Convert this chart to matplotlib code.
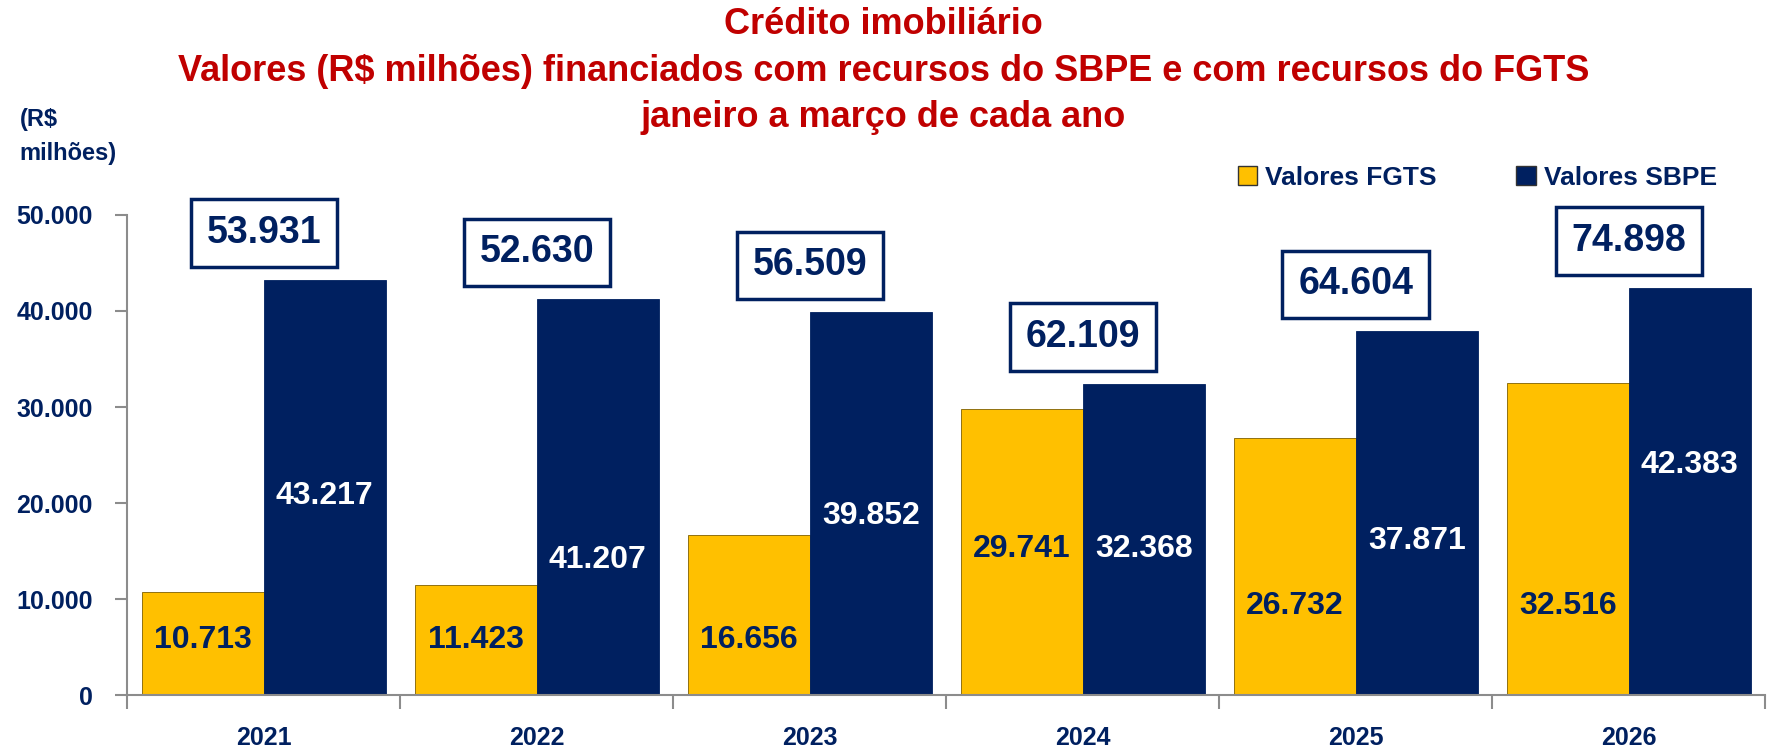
import numpy as np
import matplotlib.pyplot as plt
from matplotlib.patches import Patch

plt.rcParams["font.family"] = ["Liberation Sans", "DejaVu Sans"]
plt.rcParams["font.weight"] = "bold"

NAVY = "#002060"
GOLD = "#FFC000"
RED = "#C00000"

years = ["2021", "2022", "2023", "2024", "2025", "2026"]
fgts = [10713, 11423, 16656, 29741, 26732, 32516]
sbpe = [43217, 41207, 39852, 32368, 37871, 42383]
totals = [53931, 52630, 56509, 62109, 64604, 74898]

# where the value labels sit inside the bars (data units)
fgts_label_y = [5700, 5700, 5700, 15200, 9300, 9300]
sbpe_label_y = [20700, 14100, 18700, 15200, 16000, 24000]


def fmt(v):
    return "{:,}".format(v).replace(",", ".")


fig = plt.figure(figsize=(17.67, 7.49), dpi=100)
ax = fig.add_axes([0.072, 0.072, 0.927, 0.641])

x = np.arange(len(years))
w = 0.447
ax.bar(x - w / 2, fgts, w, color=GOLD, edgecolor="#7F6000", linewidth=0.6, label="Valores FGTS")
ax.bar(x + w / 2, sbpe, w, color=NAVY, edgecolor=NAVY, linewidth=0.6, label="Valores SBPE")

for i in range(len(years)):
    ax.text(x[i] - w / 2, fgts_label_y[i], fmt(fgts[i]), ha="center", va="center",
            fontsize=23, color=NAVY, fontweight="bold")
    ax.text(x[i] + w / 2, sbpe_label_y[i], fmt(sbpe[i]), ha="center", va="center",
            fontsize=23, color="white", fontweight="bold")
    ax.text(x[i], sbpe[i] + 4900, fmt(totals[i]), ha="center", va="center",
            fontsize=27, color=NAVY, fontweight="bold", clip_on=False,
            bbox=dict(boxstyle="square,pad=0.42", fc="white", ec=NAVY, lw=2.5))

ax.set_xlim(-0.5, len(years) - 0.5)
ax.set_ylim(0, 50000)
ax.set_yticks(np.arange(0, 50001, 10000))
ax.set_yticklabels([fmt(v) for v in range(0, 50001, 10000)])
ax.set_xticks(x)
ax.set_xticklabels(years)
ax.set_xticks(np.arange(-0.5, len(years)), minor=True)

for s in ["top", "right"]:
    ax.spines[s].set_visible(False)
for s in ["left", "bottom"]:
    ax.spines[s].set_color("#8C8C8C")
    ax.spines[s].set_linewidth(1.5)

ax.tick_params(axis="y", length=9, width=1.5, color="#8C8C8C", pad=16,
               labelsize=18, labelcolor=NAVY)
ax.tick_params(axis="x", which="major", length=0, pad=22, labelsize=18, labelcolor=NAVY)
ax.tick_params(axis="x", which="minor", length=10, width=1.5, color="#8C8C8C")

fig.legend(handles=[Patch(fc=GOLD, ec="#333333", lw=1), Patch(fc=NAVY, ec="#333333", lw=1)],
           labels=["Valores FGTS", "Valores SBPE"], ncol=2, frameon=False,
           loc="center", bbox_to_anchor=(0.836, 0.763), fontsize=19,
           labelcolor=NAVY, handlelength=0.75, handleheight=0.75,
           handletextpad=0.3, columnspacing=3.0)

fig.text(0.011, 0.818, "(R$\nmilhões)", fontsize=17, color=NAVY, fontweight="bold",
         va="center", ha="left", linespacing=1.6)

fig.text(0.5, 0.99, "Crédito imobiliário\nValores (R$ milhões) financiados com recursos do SBPE e com recursos do FGTS\njaneiro a março de cada ano",
         ha="center", va="top", fontsize=26, color=RED, fontweight="bold",
         linespacing=1.42)

fig.savefig("out.png", dpi=100)
